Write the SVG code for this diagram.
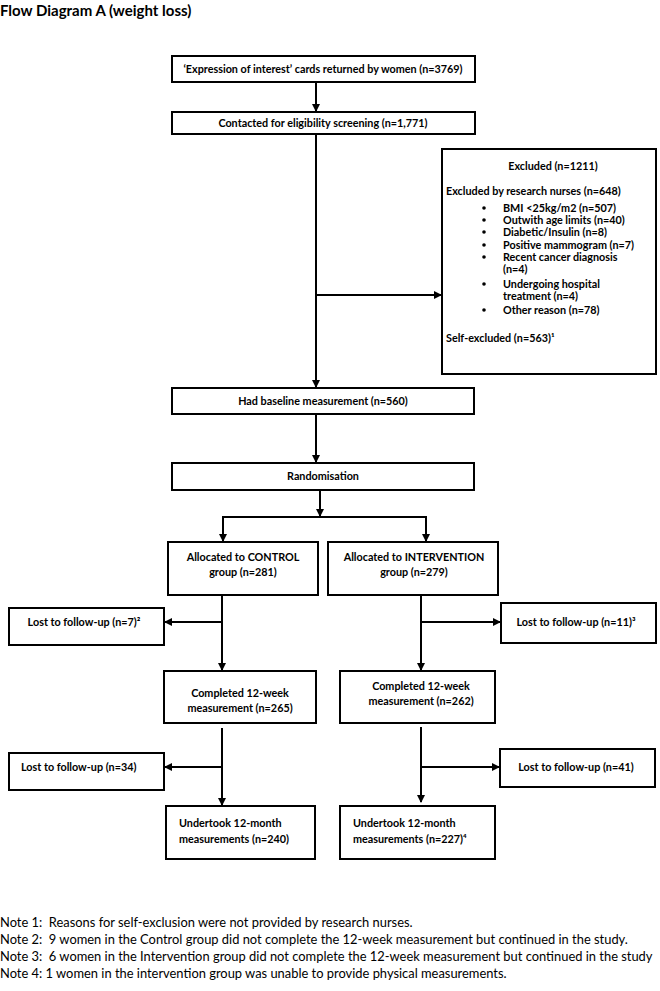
<svg xmlns="http://www.w3.org/2000/svg" width="660" height="991" viewBox="0 0 660 991">
<style>
.bx{fill:#fff;stroke:#000;stroke-width:2}
.t{font-family:Lato,"Liberation Sans",sans-serif;font-weight:bold;font-size:10.8px;fill:#000}
.c{text-anchor:middle}
.n{font-family:Lato,"Liberation Sans",sans-serif;font-size:12.9px;fill:#000;white-space:pre}
.ln{stroke:#000;stroke-width:2;fill:none}
</style>
<defs>
<marker id="ah" markerWidth="8" markerHeight="8" refX="7" refY="4" orient="auto" markerUnits="userSpaceOnUse">
<path d="M0,0 L8,4 L0,8 Z" fill="#000"/>
</marker>
</defs>
<rect width="660" height="991" fill="#fff"/>
<text x="0" y="16" style="font-family:Lato,'Liberation Sans',sans-serif;font-weight:bold;font-size:15px">Flow Diagram A (weight loss)</text>

<g id="connectors">
<line class="ln" x1="316" y1="82" x2="316" y2="111" marker-end="url(#ah)"/>
<line class="ln" x1="316" y1="134" x2="316" y2="387" marker-end="url(#ah)"/>
<line class="ln" x1="316" y1="295" x2="441" y2="295" marker-end="url(#ah)"/>
<line class="ln" x1="316" y1="414" x2="316" y2="462" marker-end="url(#ah)"/>
<line class="ln" x1="320" y1="490" x2="320" y2="516" marker-end="url(#ah)"/>
<line class="ln" x1="222" y1="517" x2="427" y2="517"/>
<line class="ln" x1="223" y1="517" x2="223" y2="541" marker-end="url(#ah)"/>
<line class="ln" x1="426" y1="517" x2="426" y2="541" marker-end="url(#ah)"/>
<line class="ln" x1="222" y1="595" x2="222" y2="670" marker-end="url(#ah)"/>
<line class="ln" x1="421" y1="595" x2="421" y2="670" marker-end="url(#ah)"/>
<line class="ln" x1="222" y1="622" x2="165" y2="622" marker-end="url(#ah)"/>
<line class="ln" x1="421" y1="622" x2="500" y2="622" marker-end="url(#ah)"/>
<line class="ln" x1="222" y1="728" x2="222" y2="805" marker-end="url(#ah)"/>
<line class="ln" x1="222" y1="767" x2="165" y2="767" marker-end="url(#ah)"/>
<line class="ln" x1="421" y1="727" x2="421" y2="802" marker-end="url(#ah)"/>
<line class="ln" x1="421" y1="767" x2="499" y2="767" marker-end="url(#ah)"/>
</g>

<g id="n1"><rect class="bx" x="172" y="56" width="303" height="26"/>
<text class="t c" x="323" y="73">‘Expression of interest’ cards returned by women (n=3769)</text></g>
<g id="n2"><rect class="bx" x="172" y="112" width="303" height="22"/>
<text class="t c" x="323" y="127">Contacted for eligibility screening (n=1,771)</text></g>
<g id="excluded"><rect class="bx" x="442" y="149" width="214" height="225"/>
<text class="t c" x="553" y="170">Excluded (n=1211)</text>
<text class="t" x="446" y="195">Excluded by research nurses (n=648)</text>
<g fill="#000"><circle cx="484" cy="208" r="1.8"/><circle cx="484" cy="220" r="1.8"/><circle cx="484" cy="232" r="1.8"/><circle cx="484" cy="245" r="1.8"/><circle cx="484" cy="257" r="1.8"/><circle cx="484" cy="284" r="1.8"/><circle cx="484" cy="310" r="1.8"/></g>
<text class="t" x="503" y="212">BMI &lt;25kg/m2 (n=507)</text>
<text class="t" x="503" y="224">Outwith age limits (n=40)</text>
<text class="t" x="503" y="236">Diabetic/Insulin (n=8)</text>
<text class="t" x="503" y="249">Positive mammogram (n=7)</text>
<text class="t" x="503" y="261">Recent cancer diagnosis</text>
<text class="t" x="503" y="273">(n=4)</text>
<text class="t" x="503" y="288">Undergoing hospital</text>
<text class="t" x="503" y="300">treatment (n=4)</text>
<text class="t" x="503" y="314">Other reason (n=78)</text>
<text class="t" x="446" y="342">Self-excluded (n=563)¹</text></g>
<g id="baseline"><rect class="bx" x="172" y="388" width="302" height="26"/>
<text class="t c" x="323" y="405">Had baseline measurement (n=560)</text></g>
<g id="random"><rect class="bx" x="172" y="463" width="302" height="27"/>
<text class="t c" x="323" y="480">Randomisation</text></g>
<g id="alloc_control"><rect class="bx" x="168" y="542" width="150" height="53"/>
<text class="t c" x="243" y="561">Allocated to CONTROL</text>
<text class="t c" x="243" y="576">group (n=281)</text></g>
<g id="alloc_interv"><rect class="bx" x="328" y="542" width="170" height="53"/>
<text class="t c" x="414" y="561">Allocated to INTERVENTION</text>
<text class="t c" x="414" y="576">group (n=279)</text></g>
<g id="lost7"><rect class="bx" x="9" y="608" width="155" height="37"/>
<text class="t c" x="84" y="626">Lost to follow-up (n=7)²</text></g>
<g id="lost11"><rect class="bx" x="501" y="603" width="155" height="40"/>
<text class="t c" x="576" y="626">Lost to follow-up (n=11)³</text></g>
<g id="comp_control"><rect class="bx" x="164" y="671" width="152" height="52"/>
<text class="t c" x="240" y="697">Completed 12-week</text>
<text class="t c" x="240" y="712">measurement (n=265)</text></g>
<g id="comp_interv"><rect class="bx" x="340" y="671" width="155" height="52"/>
<text class="t c" x="421" y="690">Completed 12-week</text>
<text class="t c" x="421" y="705">measurement (n=262)</text></g>
<g id="lost34"><rect class="bx" x="9" y="753" width="155" height="37"/>
<text class="t" x="21" y="771">Lost to follow-up (n=34)</text></g>
<g id="lost41"><rect class="bx" x="500" y="749" width="155" height="38"/>
<text class="t c" x="576" y="771">Lost to follow-up (n=41)</text></g>
<g id="under_control"><rect class="bx" x="166" y="806" width="149" height="53"/>
<text class="t" x="179" y="827">Undertook 12-month</text>
<text class="t" x="179" y="843">measurements (n=240)</text></g>
<g id="under_interv"><rect class="bx" x="340" y="806" width="155" height="53"/>
<text class="t" x="353" y="827">Undertook 12-month</text>
<text class="t" x="353" y="843">measurements (n=227)⁴</text></g>

<g id="notes">
<text class="n" x="0" y="927" xml:space="preserve">Note 1:  Reasons for self-exclusion were not provided by research nurses.</text>
<text class="n" x="0" y="944" xml:space="preserve">Note 2:  9 women in the Control group did not complete the 12-week measurement but continued in the study.</text>
<text class="n" x="0" y="961" xml:space="preserve">Note 3:  6 women in the Intervention group did not complete the 12-week measurement but continued in the study</text>
<text class="n" x="0" y="978" xml:space="preserve">Note 4: 1 women in the intervention group was unable to provide physical measurements.</text>
</g>
</svg>
